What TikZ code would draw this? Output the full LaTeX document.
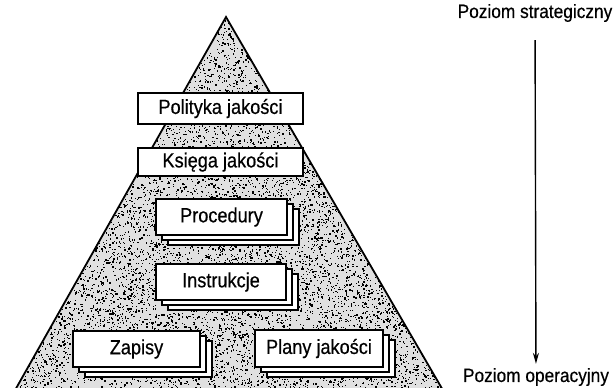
\documentclass[tikz,border=0pt]{standalone}
\usepackage{fontspec}
\setmainfont{Liberation Sans}[FakeStretch=0.885, FakeBold=0.5]
\newfontfamily\levelfont{Liberation Sans}[FakeStretch=0.9, FakeBold=0.5]
\usetikzlibrary{shadows,arrows.meta}
\begin{document}
\begin{tikzpicture}[x=1pt,y=-1pt,
  card/.style={draw=black, line width=1.5pt, fill=white, inner sep=0pt,
    font=\fontsize{20.5}{24}\selectfont},
  stack/.style={double copy shadow={shadow xshift=6pt, shadow yshift=-5pt,
    line width=1.5pt, draw=black, fill=white}},
  level/.style={inner sep=0pt, font=\levelfont\fontsize{19.2}{22}\selectfont},
  flow/.style={line width=1.4pt, -{Stealth[length=11pt,width=6pt]}},
]
\useasboundingbox (0,0) rectangle (616,388);

% pyramid body with speckled fill
\coordinate (apex) at (226,17);
\coordinate (bl) at (14,392);
\coordinate (br) at (444,392);
\fill[black!12] (apex) -- (bl) -- (br) -- cycle;
\begin{scope}
  \clip (apex) -- (bl) -- (br) -- cycle;
  \pgfmathsetseed{7}
  \foreach \i in {1,...,7500}{
    \pgfmathsetmacro\s{sqrt(rnd)}
    \pgfmathsetmacro\t{rnd}
    \pgfmathsetmacro\px{226+\s*((1-\t)*(-212)+\t*218)}
    \pgfmathsetmacro\py{17+\s*375}
    \pgfmathsetmacro\d{0.7+1.0*rnd}
    \fill[black] (\px,\py) rectangle ++(\d,\d);
  }
\end{scope}
\draw[line width=1.8pt, line join=miter] (bl) -- (apex) -- (br);

% document levels
\node[card, minimum width=165pt, minimum height=31pt] (pol) at (220.5,108.5) {Polityka jakości};
\node[card, minimum width=165pt, minimum height=28pt] (ksi) at (220.5,162) {Księga jakości};
\node[card, stack, minimum width=131pt, minimum height=36pt] (pro) at (221.5,217) {Procedury};
\node[card, stack, minimum width=130pt, minimum height=36pt] (ins) at (221,282) {Instrukcje};
\node[card, stack, minimum width=127pt, minimum height=36pt] (zap) at (136.5,349) {Zapisy};
\node[card, stack, minimum width=128pt, minimum height=37pt] (pla) at (319,348.5) {Plany jakości};

% management levels
\node[level] (str) at (535,13) {Poziom strategiczny};
\node[level] (ope) at (536,377) {Poziom operacyjny};
\draw[flow, shorten <=18pt, shorten >=4pt] (str) -- (ope);
\end{tikzpicture}
\end{document}
